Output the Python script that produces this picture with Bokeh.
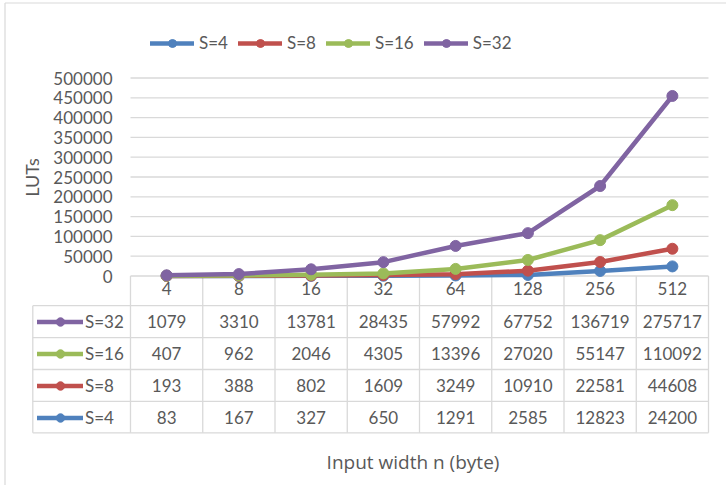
import numpy as np
from bokeh.plotting import figure
from bokeh.models import (Range1d, FixedTicker, BasicTickFormatter, Legend,
                          LegendItem, ColumnDataSource)
from bokeh.core.properties import value
from bokeh.embed import file_html
from bokeh.resources import INLINE

# ---- data -----------------------------------------------------------------
widths = ["4", "8", "16", "32", "64", "128", "256", "512"]
series_names = ["S=4", "S=8", "S=16", "S=32"]
s4 = [83, 167, 327, 650, 1291, 2585, 12823, 24200]
s8 = [193, 388, 802, 1609, 3249, 10910, 22581, 44608]
s16 = [407, 962, 2046, 4305, 13396, 27020, 55147, 110092]
s32 = [1079, 3310, 13781, 28435, 57992, 67752, 136719, 275717]
colors = ["#4F81BD", "#C0504D", "#9BBB59", "#8064A2"]
y_ticks = [0, 50000, 100000, 150000, 200000, 250000,
           300000, 350000, 400000, 450000, 500000]

# ---- geometry (pixels) ----------------------------------------------------
W, H = 726, 485
X0, COL = 130.0, 72.25            # left edge of plot area, column width
Y0, K = 275.5, 198.0 / 500000     # baseline of plot area, px per LUT
TABLE_LEFT = 32.3
ROW_EDGES = [275.5, 305.2, 337.2, 369.0, 400.8, 432.3]

FONT = "Lato"
FS = "17px"
TXT = "#595959"
GRID = "#D9D9D9"


def dx(px):
    return (px - X0) / COL


def dy(py):
    return (Y0 - py) / K


p = figure(width=W, height=H, output_backend="svg", toolbar_location=None,
           x_range=Range1d(dx(0), dx(W)), y_range=Range1d(dy(H), dy(0)),
           min_border=0, outline_line_color=None, title=None)
p.xgrid.visible = False
p.ygrid.visible = False
p.background_fill_color = "white"
p.border_fill_color = "white"

# chart border (left and top edges)
p.segment(x0=[dx(4.5), dx(4.5)], y0=[dy(2.5), dy(2.5)],
          x1=[dx(4.5), dx(W)], y1=[dy(H), dy(2.5)],
          line_color=GRID, line_width=1.2)

# horizontal gridlines across the plot area
n = len(widths)
p.segment(x0=[0] * len(y_ticks), y0=y_ticks, x1=[n] * len(y_ticks), y1=y_ticks,
          line_color=GRID, line_width=1.3)

# data table grid
vx0, vy0, vx1, vy1 = [], [], [], []
for j in range(n + 1):
    vx0.append(j); vx1.append(j)
    vy0.append(dy(ROW_EDGES[0])); vy1.append(dy(ROW_EDGES[-1]))
vx0.append(dx(TABLE_LEFT)); vx1.append(dx(TABLE_LEFT))
vy0.append(dy(ROW_EDGES[1])); vy1.append(dy(ROW_EDGES[-1]))
for r in ROW_EDGES[1:]:
    vx0.append(dx(TABLE_LEFT)); vx1.append(n)
    vy0.append(dy(r)); vy1.append(dy(r))
p.segment(x0=vx0, y0=vy0, x1=vx1, y1=vy1, line_color=GRID, line_width=1.3)

# stacked lines
xs = np.arange(n) + 0.5
raw = np.array([s4, s8, s16, s32])
stacked = np.cumsum(raw, axis=0)
rends = []
for name, col, ys in zip(series_names, colors, stacked):
    src = ColumnDataSource(dict(x=xs, y=ys))
    ln = p.line("x", "y", source=src, line_color=col, line_width=4.5,
                line_join="round", line_cap="round")
    mk = p.scatter("x", "y", source=src, size=11, fill_color=col,
                   line_color=col)
    rends.append([ln, mk])

# table values, top row is S=32
row_centers = [(a + b) / 2 for a, b in zip(ROW_EDGES[1:], ROW_EDGES[2:])]
tx, ty, tt = [], [], []
for ri, vals in enumerate(raw[::-1]):
    for j, v in enumerate(vals):
        tx.append(xs[j]); ty.append(dy(row_centers[ri])); tt.append(str(v))
p.text(x=tx, y=ty, text=tt, text_font=value(FONT), text_font_size=FS,
       text_color=TXT, text_align="center", text_baseline="middle")

# x axis: category labels in the table header row
xa = p.xaxis[0]
xa.fixed_location = 0
xa.ticker = FixedTicker(ticks=xs.tolist())
xa.major_label_overrides = {float(x): w for x, w in zip(xs, widths)}
xa.major_tick_in = 0
xa.major_tick_out = 0
xa.minor_tick_in = 0
xa.minor_tick_out = 0
xa.axis_line_color = None
xa.major_label_standoff = 6
xa.major_label_text_font = FONT
xa.major_label_text_font_size = FS
xa.major_label_text_color = TXT

# y axis
ya = p.yaxis[0]
ya.fixed_location = 0
ya.bounds = (0, 500000)
ya.ticker = FixedTicker(ticks=y_ticks)
ya.formatter = BasicTickFormatter(use_scientific=False)
ya.major_tick_in = 0
ya.major_tick_out = 0
ya.minor_tick_in = 0
ya.minor_tick_out = 0
ya.axis_line_color = None
ya.major_label_standoff = 18
ya.major_label_text_font = FONT
ya.major_label_text_font_size = FS
ya.major_label_text_color = TXT
ya.axis_label = "LUTs"
ya.axis_label_text_font = FONT
ya.axis_label_text_font_size = "18px"
ya.axis_label_text_color = TXT
ya.axis_label_text_font_style = "normal"
ya.axis_label_standoff = 7

# x axis title
p.text(x=[dx(412.5)], y=[dy(461)], text=["Input width n (byte)"],
       text_font=value("Open Sans"), text_font_size="19px", text_color=TXT,
       text_align="center", text_baseline="alphabetic")

common = dict(label_text_font=FONT, label_text_font_size=FS,
              label_text_color=TXT, padding=0, margin=0,
              border_line_color=None, background_fill_alpha=0)

# legend above the chart
top_leg = Legend(items=[LegendItem(label=nm, renderers=r)
                        for nm, r in zip(series_names, rends)],
                 orientation="horizontal", location=(150, 432),
                 glyph_width=44, glyph_height=20, label_height=20,
                 label_standoff=5, spacing=10, **common)
p.add_layout(top_leg)

# legend keys forming the table's row headers
row_leg = Legend(items=[LegendItem(label=nm, renderers=r)
                        for nm, r in list(zip(series_names, rends))[::-1]],
                 orientation="vertical", location=(37, 57.5),
                 glyph_width=46, glyph_height=21, label_height=21,
                 label_standoff=2, spacing=11, **common)
p.add_layout(row_leg)

open("out.html", "w").write(file_html(p, INLINE))
